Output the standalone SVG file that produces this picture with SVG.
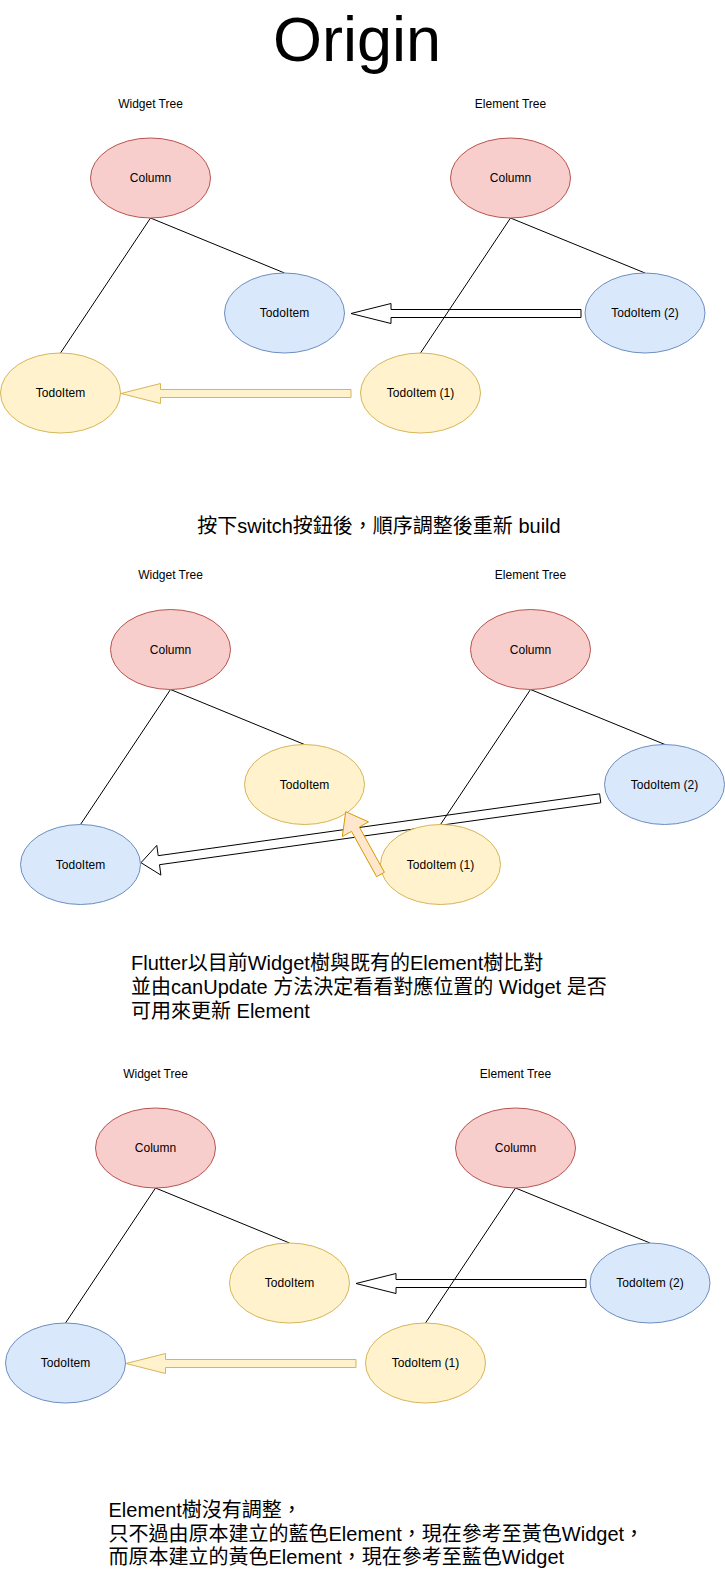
<svg xmlns="http://www.w3.org/2000/svg" width="725" height="1589" viewBox="0 0 725 1589">
<style>
text{font-family:"Liberation Sans","Noto Sans CJK TC",sans-serif;fill:#000}
.lbl{font-size:12px;text-anchor:middle}
.big{font-size:20px}
.red{fill:#f8cecc;stroke:#b85450;stroke-width:1}
.blue{fill:#dae8fc;stroke:#6c8ebf;stroke-width:1}
.yel{fill:#fff2cc;stroke:#d6b656;stroke-width:1}
.ln{stroke:#000;stroke-width:1;fill:none}
.wa{fill:#fff;stroke:#000;stroke-width:1;stroke-linejoin:miter}
.ya{fill:#fff2cc;stroke:#d6b656;stroke-width:1}
.oa{fill:#ffe6cc;stroke:#d79b00;stroke-width:1}
</style>
<rect width="725" height="1589" fill="#fff"/>

<!-- Titles and texts -->
<text x="357" y="61" style="font-size:63px;text-anchor:middle">Origin</text>
<text class="lbl" x="150.5" y="107.5">Widget Tree</text>
<text class="lbl" x="510.5" y="107.5">Element Tree</text>
<text class="big" x="379" y="533" text-anchor="middle">按下switch按鈕後，順序調整後重新 build</text>
<text class="lbl" x="170.5" y="579">Widget Tree</text>
<text class="lbl" x="530.5" y="579">Element Tree</text>
<text class="big" x="131" y="969.5">Flutter以目前Widget樹與既有的Element樹比對</text>
<text class="big" x="131" y="993.5">並由canUpdate 方法決定看看對應位置的 Widget 是否</text>
<text class="big" x="131" y="1017.5">可用來更新 Element</text>
<text class="lbl" x="155.5" y="1077.5">Widget Tree</text>
<text class="lbl" x="515.5" y="1077.5">Element Tree</text>
<text class="big" x="108.5" y="1517">Element樹沒有調整，</text>
<text class="big" x="108.5" y="1540.5">只不過由原本建立的藍色Element，現在參考至黃色Widget，</text>
<text class="big" x="108.5" y="1564">而原本建立的黃色Element，現在參考至藍色Widget</text>

<!-- Connectors -->
<g id="connectors">
  <!-- section 1 -->
  <polygon class="wa" points="581,309.5 391,309.5 391,303.5 351,313.5 391,323.5 391,317.5 581,317.5"/>
  <polygon class="ya" points="351,389.5 160.5,389.5 160.5,383.5 121,393.5 160.5,403.5 160.5,397.5 351,397.5"/>
  <line class="ln" x1="150.5" y1="218" x2="284.5" y2="273"/>
  <line class="ln" x1="150.5" y1="218" x2="60.5" y2="353"/>
  <line class="ln" x1="510.5" y1="218" x2="645" y2="273"/>
  <line class="ln" x1="510.5" y1="218" x2="420.5" y2="353"/>
  <!-- section 2 -->
  <polygon class="wa" points="599.6,793.8 158.2,855.7 156.8,845.4 141,862.7 160.9,875.1 159.5,864.7 600.8,802.8"/>
  <line class="ln" x1="170.5" y1="689.5" x2="304.5" y2="744.5"/>
  <line class="ln" x1="170.5" y1="689.5" x2="80.5" y2="824.5"/>
  <line class="ln" x1="530.5" y1="689.5" x2="665" y2="744.5"/>
  <line class="ln" x1="530.5" y1="689.5" x2="440.5" y2="824.5"/>
  <!-- section 3 -->
  <polygon class="wa" points="586,1279.5 396,1279.5 396,1273.5 356,1283.5 396,1293.5 396,1287.5 586,1287.5"/>
  <polygon class="ya" points="356,1359.5 165.5,1359.5 165.5,1353.5 126,1363.5 165.5,1373.5 165.5,1367.5 356,1367.5"/>
  <line class="ln" x1="155.5" y1="1188" x2="289.5" y2="1243"/>
  <line class="ln" x1="155.5" y1="1188" x2="65.5" y2="1323"/>
  <line class="ln" x1="515.5" y1="1188" x2="650" y2="1243"/>
  <line class="ln" x1="515.5" y1="1188" x2="425.5" y2="1323"/>
</g>

<!-- Section 1 nodes -->
<g id="s1-w-column"><ellipse class="red" cx="150.5" cy="178" rx="60" ry="40"/><text class="lbl" x="150.5" y="182">Column</text></g>
<g id="s1-e-column"><ellipse class="red" cx="510.5" cy="178" rx="60" ry="40"/><text class="lbl" x="510.5" y="182">Column</text></g>
<g id="s1-w-todo-blue"><ellipse class="blue" cx="284.5" cy="313" rx="60" ry="40"/><text class="lbl" x="284.5" y="317">TodoItem</text></g>
<g id="s1-w-todo-yellow"><ellipse class="yel" cx="60.5" cy="393" rx="60" ry="40"/><text class="lbl" x="60.5" y="397">TodoItem</text></g>
<g id="s1-e-todo2"><ellipse class="blue" cx="645" cy="313" rx="60" ry="40"/><text class="lbl" x="645" y="317">TodoItem (2)</text></g>
<g id="s1-e-todo1"><ellipse class="yel" cx="420.5" cy="393" rx="60" ry="40"/><text class="lbl" x="420.5" y="397">TodoItem (1)</text></g>

<!-- Section 2 nodes -->
<g id="s2-w-column"><ellipse class="red" cx="170.5" cy="649.5" rx="60" ry="40"/><text class="lbl" x="170.5" y="653.5">Column</text></g>
<g id="s2-e-column"><ellipse class="red" cx="530.5" cy="649.5" rx="60" ry="40"/><text class="lbl" x="530.5" y="653.5">Column</text></g>
<g id="s2-w-todo-yellow"><ellipse class="yel" cx="304.5" cy="784.5" rx="60" ry="40"/><text class="lbl" x="304.5" y="788.5">TodoItem</text></g>
<g id="s2-w-todo-blue"><ellipse class="blue" cx="80.5" cy="864.5" rx="60" ry="40"/><text class="lbl" x="80.5" y="868.5">TodoItem</text></g>
<g id="s2-e-todo2"><ellipse class="blue" cx="664.5" cy="784.5" rx="60" ry="40"/><text class="lbl" x="664.5" y="788.5">TodoItem (2)</text></g>
<g id="s2-e-todo1"><ellipse class="yel" cx="440.5" cy="864.5" rx="60" ry="40"/><text class="lbl" x="440.5" y="868.5">TodoItem (1)</text></g>
<g id="s2-orange-arrow"><polygon class="oa" points="376.6,876.7 351.5,831.4 342.3,836.5 345.7,811.7 368.5,821.9 359.3,827.0 384.4,872.3"/></g>

<!-- Section 3 nodes -->
<g id="s3-w-column"><ellipse class="red" cx="155.5" cy="1148" rx="60" ry="40"/><text class="lbl" x="155.5" y="1152">Column</text></g>
<g id="s3-e-column"><ellipse class="red" cx="515.5" cy="1148" rx="60" ry="40"/><text class="lbl" x="515.5" y="1152">Column</text></g>
<g id="s3-w-todo-yellow"><ellipse class="yel" cx="289.5" cy="1283" rx="60" ry="40"/><text class="lbl" x="289.5" y="1287">TodoItem</text></g>
<g id="s3-w-todo-blue"><ellipse class="blue" cx="65.5" cy="1363" rx="60" ry="40"/><text class="lbl" x="65.5" y="1367">TodoItem</text></g>
<g id="s3-e-todo2"><ellipse class="blue" cx="650" cy="1283" rx="60" ry="40"/><text class="lbl" x="650" y="1287">TodoItem (2)</text></g>
<g id="s3-e-todo1"><ellipse class="yel" cx="425.5" cy="1363" rx="60" ry="40"/><text class="lbl" x="425.5" y="1367">TodoItem (1)</text></g>
</svg>
